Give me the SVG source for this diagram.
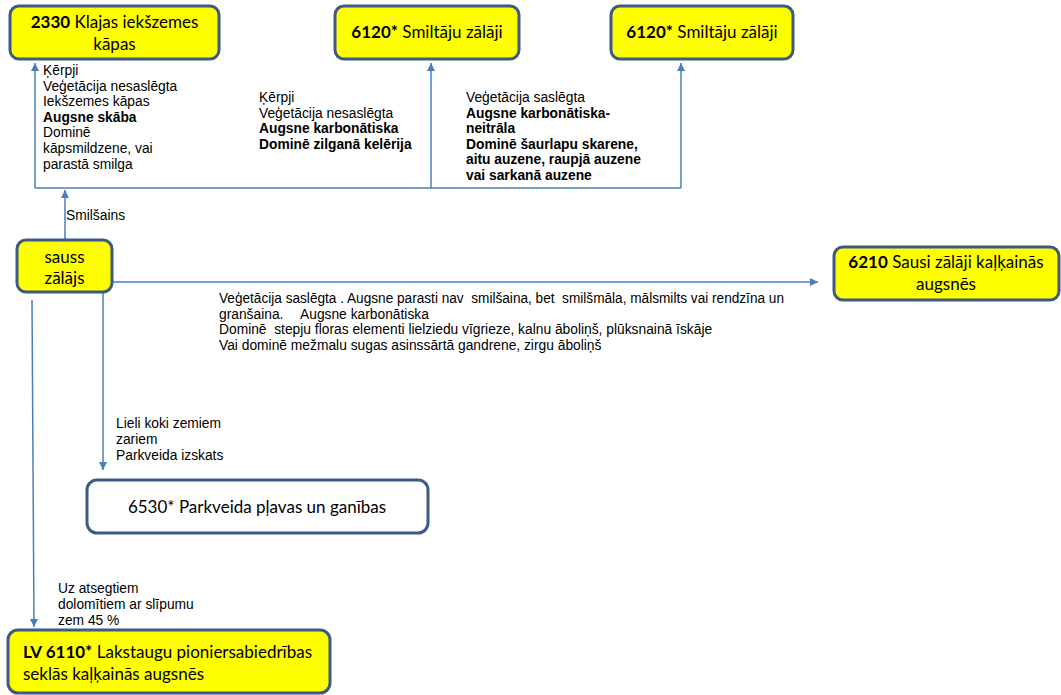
<svg xmlns="http://www.w3.org/2000/svg" width="1061" height="695" viewBox="0 0 1061 695">
  <style>
    .box { fill: #ffff00; stroke: #3b5b86; stroke-width: 3; }
    .box-w { fill: #ffffff; stroke: #3b5b86; stroke-width: 3; }
    .bt { font-family: Lato, "Noto Sans", sans-serif; font-size: 17px; fill: #000; }
    .b { font-weight: bold; }
    .lbl { font-family: "Liberation Sans", Arial, sans-serif; font-size: 13.8px; fill: #000; }
    .conn { fill: none; stroke: #4a7ebb; stroke-width: 1.5; }
  </style>
  <defs>
    <marker id="arrow" markerUnits="userSpaceOnUse" markerWidth="9" markerHeight="9" refX="8" refY="4" orient="auto">
      <path d="M0,0 L8,4 L0,8 z" fill="#4a7ebb"/>
    </marker>
  </defs>

  <!-- connectors -->
  <g id="connectors">
    <path class="conn" d="M35,188 H681"/>
    <path class="conn" d="M35,188 V63" marker-end="url(#arrow)"/>
    <path class="conn" d="M431,188 V63" marker-end="url(#arrow)"/>
    <path class="conn" d="M681,188 V63" marker-end="url(#arrow)"/>
    <path class="conn" d="M65,240 V190" marker-end="url(#arrow)"/>
    <path class="conn" d="M112,282 H818" marker-end="url(#arrow)"/>
    <path class="conn" d="M103,292 V470" marker-end="url(#arrow)"/>
    <path class="conn" d="M32,300 L34,627" marker-end="url(#arrow)"/>
  </g>

  <!-- connector labels -->
  <g id="labels" class="lbl">
    <text>
      <tspan x="43" y="75">Ķērpji</tspan>
      <tspan x="43" y="90.6">Veģetācija nesaslēgta</tspan>
      <tspan x="43" y="106.2">Iekšzemes kāpas</tspan>
      <tspan x="43" y="121.8" class="b">Augsne skāba</tspan>
      <tspan x="43" y="137.4">Dominē</tspan>
      <tspan x="43" y="153">kāpsmildzene, vai</tspan>
      <tspan x="43" y="168.6">parastā smilga</tspan>
    </text>
    <text>
      <tspan x="259" y="102">Ķērpji</tspan>
      <tspan x="259" y="117.6">Veģetācija nesaslēgta</tspan>
      <tspan x="259" y="133.2" class="b">Augsne karbonātiska</tspan>
      <tspan x="259" y="148.8" class="b">Dominē zilganā kelērija</tspan>
    </text>
    <text>
      <tspan x="466" y="102">Veģetācija saslēgta</tspan>
      <tspan x="466" y="117.6" class="b">Augsne karbonātiska-</tspan>
      <tspan x="466" y="133.2" class="b">neitrāla</tspan>
      <tspan x="466" y="148.8" class="b">Dominē šaurlapu skarene,</tspan>
      <tspan x="466" y="164.4" class="b">aitu auzene, raupjā auzene</tspan>
      <tspan x="466" y="180" class="b">vai sarkanā auzene</tspan>
    </text>
    <text x="66" y="220">Smilšains</text>
    <text xml:space="preserve">
      <tspan x="219" y="303" textLength="565" lengthAdjust="spacingAndGlyphs">Veģetācija saslēgta . Augsne parasti nav  smilšaina, bet  smilšmāla, mālsmilts vai rendzīna un</tspan>
      <tspan x="219" y="318.5">granšaina.</tspan><tspan x="300" y="318.5">Augsne karbonātiska</tspan>
      <tspan x="219" y="334">Dominē  stepju floras elementi lielziedu vīgrieze, kalnu āboliņš, plūksnainā īskāje</tspan>
      <tspan x="219" y="349.5">Vai dominē mežmalu sugas asinssārtā gandrene, zirgu āboliņš</tspan>
    </text>
    <text>
      <tspan x="116" y="428">Lieli koki zemiem</tspan>
      <tspan x="116" y="444">zariem</tspan>
      <tspan x="116" y="460">Parkveida izskats</tspan>
    </text>
    <text>
      <tspan x="58" y="593">Uz atsegtiem</tspan>
      <tspan x="58" y="609">dolomītiem ar slīpumu</tspan>
      <tspan x="58" y="625">zem 45 %</tspan>
    </text>
  </g>

  <!-- nodes -->
  <g id="node-2330">
    <rect class="box" x="10" y="6" width="209" height="53" rx="9"/>
    <text class="bt" text-anchor="middle"><tspan x="114.5" y="28"><tspan font-weight="bold">2330</tspan> Klajas iekšzemes</tspan><tspan x="114.5" y="50">kāpas</tspan></text>
  </g>
  <g id="node-6120-a">
    <rect class="box" x="335" y="6" width="184" height="53" rx="9"/>
    <text class="bt" x="427" y="38" text-anchor="middle"><tspan font-weight="bold">6120*</tspan> Smiltāju zālāji</text>
  </g>
  <g id="node-6120-b">
    <rect class="box" x="611" y="6" width="182" height="53" rx="9"/>
    <text class="bt" x="702" y="38" text-anchor="middle"><tspan font-weight="bold">6120*</tspan> Smiltāju zālāji</text>
  </g>
  <g id="node-sauss">
    <rect class="box" x="17" y="240" width="95" height="52" rx="9"/>
    <text class="bt" text-anchor="middle"><tspan x="64.5" y="263">sauss</tspan><tspan x="64.5" y="284">zālājs</tspan></text>
  </g>
  <g id="node-6210">
    <rect class="box" x="834" y="247" width="225" height="53" rx="9"/>
    <text class="bt" text-anchor="middle"><tspan x="946" y="268"><tspan font-weight="bold">6210</tspan> Sausi zālāji kaļķainās</tspan><tspan x="946" y="290">augsnēs</tspan></text>
  </g>
  <g id="node-6530">
    <rect class="box-w" x="87" y="480" width="341" height="53" rx="10"/>
    <text class="bt" x="257" y="513" text-anchor="middle">6530* Parkveida pļavas un ganības</text>
  </g>
  <g id="node-6110">
    <rect class="box" x="8" y="630" width="322" height="63" rx="10"/>
    <text class="bt"><tspan x="23" y="658"><tspan font-weight="bold">LV 6110*</tspan> Lakstaugu pioniersabiedrības</tspan><tspan x="23" y="680">seklās kaļķainās augsnēs</tspan></text>
  </g>
</svg>
